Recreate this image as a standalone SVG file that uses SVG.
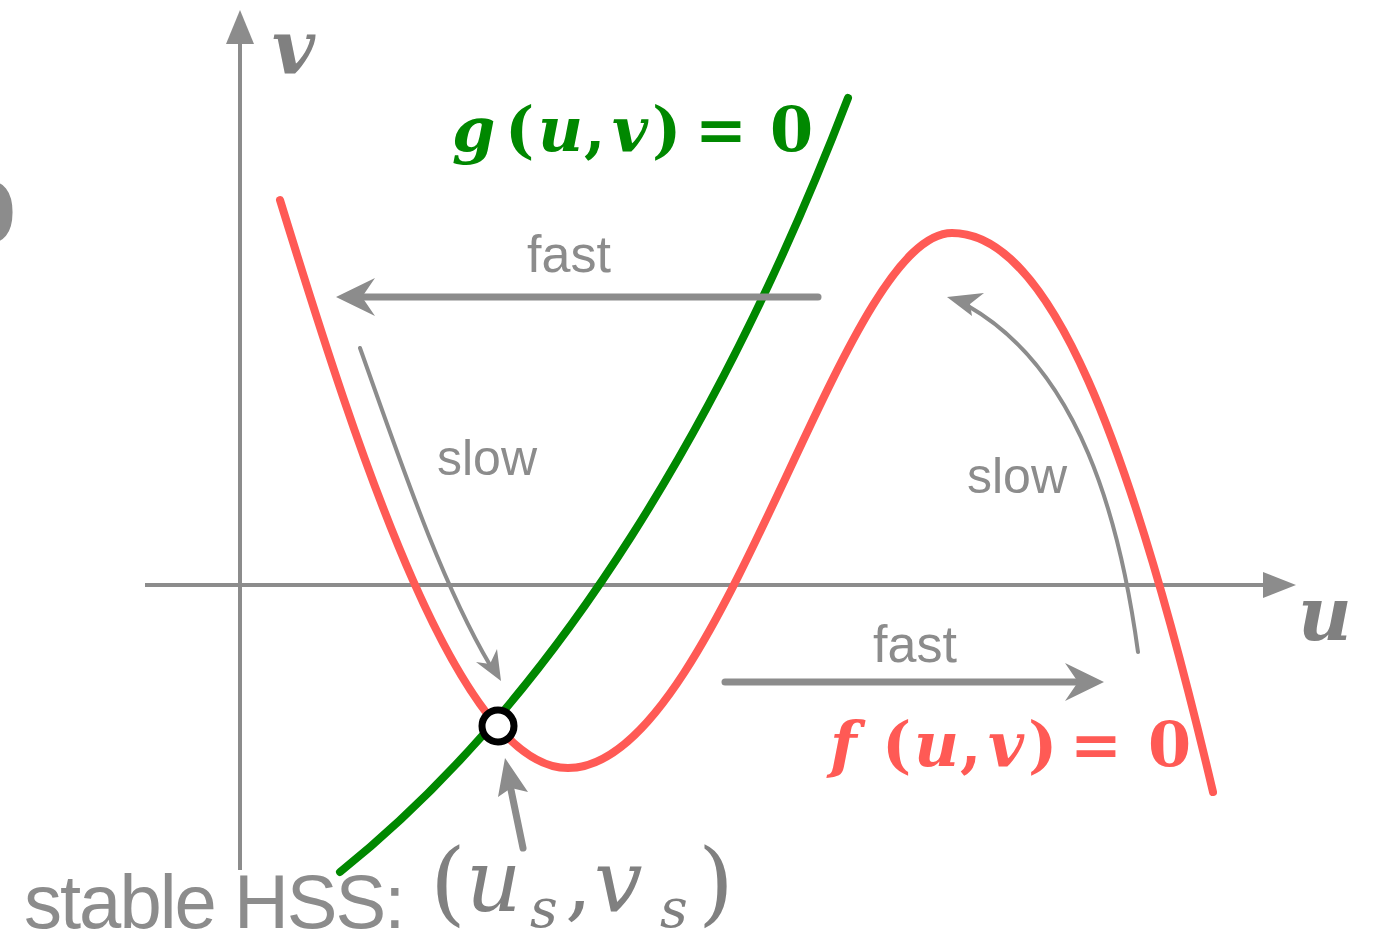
<svg xmlns="http://www.w3.org/2000/svg" width="1373" height="937" viewBox="0 0 1373 937">
<style>
.ax{stroke:#8c8c8c;stroke-width:4;fill:none}
.gr{stroke:#8c8c8c;fill:none;stroke-linecap:round}
.ah{fill:#8c8c8c}
.lbl{font-family:"Liberation Sans",Arial,sans-serif;fill:#8c8c8c}
.m{font-family:"DejaVu Serif","Liberation Serif",serif}
.it{font-style:italic}
</style>
<rect width="1373" height="937" fill="#ffffff"/>
<g id="axes">
<line class="ax" x1="240" y1="870" x2="240" y2="40"/>
<polygon class="ah" points="240,10 226,44 254,44"/>
<line class="ax" x1="145" y1="585" x2="1265" y2="585"/>
<polygon class="ah" points="1296,585 1263,572 1263,598"/>
</g>
<g id="curve-f">
<path d="M280,200 C360,460 460,768 568,768 C720,768 840,233 952,233 C1050,233 1130,440 1213,792" fill="none" stroke="#ff5a55" stroke-width="8" stroke-linecap="round"/>
</g>
<g id="curve-g">
<path d="M340,872 C560,696 728,410 848,98" fill="none" stroke="#008800" stroke-width="8" stroke-linecap="round"/>
</g>
<g id="connectors">
<line class="gr" x1="818" y1="297" x2="358" y2="297" stroke-width="7"/>
<polygon class="ah" points="336,297 375,278 362,297 375,316"/>
<line class="gr" x1="725" y1="682" x2="1085" y2="682" stroke-width="7"/>
<polygon class="ah" points="1104,682 1065,663 1078,682 1065,701"/>
<path class="gr" d="M360,348 C400,460 440,580 490,665" stroke-width="4"/>
<polygon class="ah" points="501,681 476,662 490,664 497,649"/>
<path class="gr" d="M1138,652 C1120,520 1080,370 968,306" stroke-width="4"/>
<polygon class="ah" points="947,297 984,293 970,304 972,316"/>
<line class="gr" x1="523" y1="848" x2="510" y2="785" stroke-width="7"/>
<polygon class="ah" points="505,758 498,797 511,788 528,792"/>
</g>
<g id="hss">
<circle cx="498" cy="726" r="16" fill="#ffffff" stroke="#000000" stroke-width="7"/>
</g>
<g id="labels">
<text class="m" x="-42" y="243" font-size="84" font-weight="bold" fill="#8c8c8c">0</text>
<text class="m it" x="272" y="74" font-size="74" font-weight="bold" fill="#808080">v</text>
<text class="m it" x="1298" y="640" font-size="74" font-weight="bold" fill="#808080">u</text>
<text class="m" y="151" font-size="62" font-weight="bold" fill="#008800"><tspan class="it" x="452">g</tspan><tspan x="505">(</tspan><tspan class="it" x="538">u</tspan><tspan x="584">,</tspan><tspan class="it" x="612">v</tspan><tspan x="652">)</tspan><tspan x="695">=</tspan><tspan x="770">0</tspan></text>
<text class="m" y="766" font-size="62" font-weight="bold" fill="#ff5a55"><tspan class="it" x="830">f</tspan><tspan x="882">(</tspan><tspan class="it" x="914">u</tspan><tspan x="960">,</tspan><tspan class="it" x="988">v</tspan><tspan x="1028">)</tspan><tspan x="1070">=</tspan><tspan x="1148">0</tspan></text>
<text class="lbl" x="569" y="272" font-size="52" text-anchor="middle">fast</text>
<text class="lbl" x="487" y="475" font-size="50" text-anchor="middle">slow</text>
<text class="lbl" x="1017" y="493" font-size="50" text-anchor="middle">slow</text>
<text class="lbl" x="915" y="662" font-size="52" text-anchor="middle">fast</text>
<text class="lbl" x="24" y="928" font-size="76" letter-spacing="-2">stable HSS:</text>
<text class="m" fill="#808080"><tspan x="430" y="914" font-size="92">(</tspan><tspan class="it" x="466" y="911" font-size="86">u</tspan><tspan class="it" x="530" y="927" font-size="54">s</tspan><tspan x="565" y="911" font-size="86">,</tspan><tspan class="it" x="594" y="911" font-size="86">v</tspan><tspan class="it" x="660" y="927" font-size="54">s</tspan><tspan x="698" y="914" font-size="92">)</tspan></text>
</g>
</svg>
